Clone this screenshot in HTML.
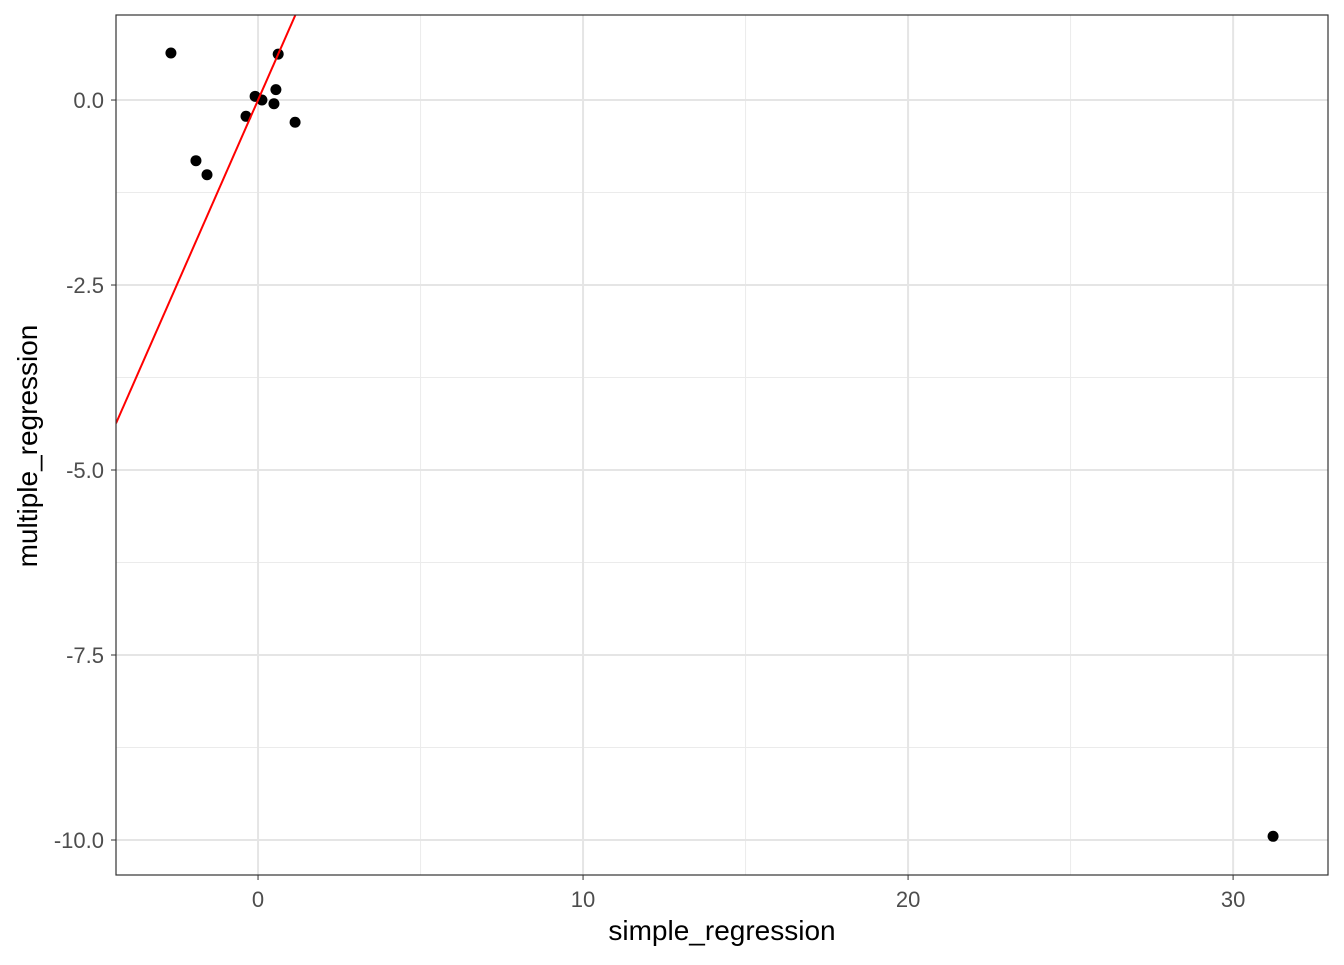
<!DOCTYPE html>
<html><head><meta charset="utf-8"><style>
body{margin:0;background:#fff;font-family:"Liberation Sans",Arial,sans-serif}
</style></head><body>
<svg id="chart" width="1344" height="960" xmlns="http://www.w3.org/2000/svg">
<g id="grid"></g><g id="marks"></g><g id="axes"></g>
</svg>
<script>
const xVals=[-2.68,0.62,-0.09,0.12,0.55,0.49,-0.37,1.14,-1.91,-1.57,31.23];
const yVals=[0.635,0.62,0.05,0.0,0.14,-0.05,-0.22,-0.30,-0.82,-1.01,-9.95];
const xTicks=[0,10,20,30];
const yTicks=[0,-2.5,-5,-7.5,-10];
const yTickLabels=["0.0","-2.5","-5.0","-7.5","-10.0"];
const lineSlope=1.0, lineIntercept=0.0;
const L=116,R=1328,T=15,B=875;
const x0=-4.37,x1=32.92,y0=-10.473,y1=1.149;
const sx=v=>L+(v-x0)/(x1-x0)*(R-L);
const sy=v=>B-(v-y0)/(y1-y0)*(B-T);
const NS="http://www.w3.org/2000/svg";
function mk(tag,attrs,parent,text){const e=document.createElementNS(NS,tag);for(const k in attrs)e.setAttribute(k,attrs[k]);if(text!==undefined)e.textContent=text;document.getElementById(parent).appendChild(e);return e;}
for(let v=-5;v<=35;v+=10){if(v<x0||v>x1)continue;const e=mk('line',{x1:sx(v),x2:sx(v),y1:T,y2:B,stroke:'#ebebeb','stroke-width':1},'grid');

}
for(let v=1.25;v>=-11;v-=2.5){if(v<y0||v>y1)continue;const e=mk('line',{x1:L,x2:R,y1:sy(v),y2:sy(v),stroke:'#ebebeb','stroke-width':1},'grid');

}
xTicks.forEach(v=>{const e=mk('line',{x1:sx(v),x2:sx(v),y1:T,y2:B,stroke:'#e5e5e5','stroke-width':2},'grid');


const t=mk('line',{x1:sx(v),x2:sx(v),y1:B,y2:B+5,stroke:'#333','stroke-width':1},'axes');


const l=mk('text',{x:sx(v),y:B+32,'text-anchor':'middle','font-size':22,fill:'#4d4d4d'},'axes',String(v));

});
yTicks.forEach((v,i)=>{const e=mk('line',{x1:L,x2:R,y1:sy(v),y2:sy(v),stroke:'#e5e5e5','stroke-width':2},'grid');


const t=mk('line',{x1:L-5,x2:L,y1:sy(v),y2:sy(v),stroke:'#333','stroke-width':1},'axes');


const l=mk('text',{x:L-12,y:sy(v)+8,'text-anchor':'end','font-size':22,fill:'#4d4d4d'},'axes',yTickLabels[i]);

});
xVals.forEach((v,i)=>{const c=mk('circle',{cx:sx(v),cy:sy(yVals[i]),r:5.5,fill:'#000'},'marks');

});
mk('clipPath',{id:'pc'},'marks');
const cr=document.createElementNS(NS,'rect');cr.setAttribute('x',L);cr.setAttribute('y',T);cr.setAttribute('width',R-L);cr.setAttribute('height',B-T);document.getElementById('pc').appendChild(cr);
const ln=mk('line',{x1:sx(x0),y1:sy(lineSlope*x0+lineIntercept),x2:sx(x1),y2:sy(lineSlope*x1+lineIntercept),stroke:'#ff0000','stroke-width':2,'clip-path':'url(#pc)'},'marks');


const fr=mk('rect',{x:L,y:T,width:R-L,height:B-T,fill:'none',stroke:'#333','stroke-width':1.2},'axes');


const xt=mk('text',{x:(L+R)/2,y:940,'text-anchor':'middle','font-size':28,fill:'#000'},'axes','simple_regression');


const yt=mk('text',{x:446,y:37,'text-anchor':'middle','font-size':28,fill:'#000',transform:`rotate(-90) translate(-892 0)`},'axes','multiple_regression');


</script>
</body></html>
